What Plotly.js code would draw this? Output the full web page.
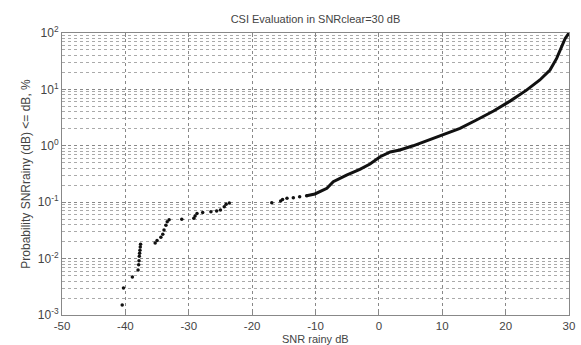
<!DOCTYPE html>
<html><head><meta charset="utf-8">
<script src="https://cdn.plot.ly/plotly-3.0.1.min.js"></script>
<style>body{margin:0;background:#fff}#c{width:581px;height:345px}</style>
</head><body><div id="c"></div>
<script>
// Sparse low-SNR samples (markers)
const sparseX = [-40.5, -40.3, -38.9, -38.0, -37.9, -37.85, -37.8, -37.75, -37.7, -37.65, -37.6,
  -35.3, -35.0, -34.4, -34.1, -33.9, -33.6, -33.4, -33.1, -31.1, -29.2, -29.0, -28.7, -27.8, -26.5, -25.6, -25.0, -24.4, -24.1, -23.6,
  -16.9, -15.5, -15.2, -14.5, -13.5, -12.5, -11.4];
const sparseY = [0.0015, 0.003, 0.0047, 0.0063, 0.0078, 0.0092, 0.011, 0.0125, 0.014, 0.016, 0.018,
  0.019, 0.021, 0.024, 0.027, 0.032, 0.039, 0.045, 0.049, 0.050, 0.052, 0.057, 0.063, 0.066, 0.068, 0.070, 0.073, 0.083, 0.092, 0.097,
  0.098, 0.105, 0.112, 0.117, 0.120, 0.125, 0.130];
// Dense part (continuous curve)
const curveX = [-11.4, -10.1, -8.2, -7.2, -5.1, -3.0, -1.4, 0.2, 1.8, 3.3, 5.4, 7.6, 9.9, 12.8, 15.4, 18.1, 20.7, 23.3, 25.4, 27.0, 28.05, 28.85, 29.4, 30.0];
const curveY = [0.130, 0.140, 0.176, 0.231, 0.303, 0.383, 0.475, 0.64, 0.776, 0.843, 1.0, 1.23, 1.52, 2.04, 2.87, 4.14, 6.2, 9.7, 14.7, 22, 35.5, 57, 80, 100];
const yTickVals = [0.001, 0.01, 0.1, 1, 10, 100];
const yTickText = ['10<sup>-3</sup>', '10<sup>-2</sup>', '10<sup>-1</sup>', '10<sup>0</sup>', '10<sup>1</sup>', '10<sup>2</sup>'];
const xTickVals = [-50, -40, -30, -20, -10, 0, 10, 20, 30];

const minorVals = [];
for (let e = -3; e < 2; e++) for (let d = 2; d < 10; d++) minorVals.push(d * Math.pow(10, e));

const traces = [
  {x: sparseX, y: sparseY, type: 'scatter', mode: 'markers', marker: {color: '#111', size: 3.5}, hoverinfo: 'none'},
  {x: curveX, y: curveY, type: 'scatter', mode: 'lines', line: {color: '#111', width: 3}, hoverinfo: 'none'}
];
const layout = {
  width: 581, height: 345,
  margin: {l: 62, r: 12, t: 33, b: 30},
  paper_bgcolor: '#fff', plot_bgcolor: '#fff',
  showlegend: false,
  font: {family: 'Liberation Sans, Arial, sans-serif', color: '#444', size: 12},
  title: {text: 'CSI Evaluation in SNRclear=30 dB', font: {size: 11, color: '#444'}, x: 0.543, xanchor: 'center', y: 0.945, yanchor: 'middle'},
  xaxis: {
    range: [-50, 30], tickvals: xTickVals, ticktext: xTickVals.map(String),
    showgrid: true, gridcolor: '#888', griddash: 'dot', gridwidth: 1,
    zeroline: false, showline: true, linecolor: '#888', linewidth: 1, mirror: 'ticks',
    ticks: 'inside', ticklen: 4, tickcolor: '#888',
    tickfont: {size: 11.5, color: '#444'}
  },
  yaxis: {
    type: 'log', range: [-3, 2], tickvals: yTickVals, ticktext: yTickText,
    showgrid: true, gridcolor: '#888', griddash: 'dot', gridwidth: 1,
    minor: {tickvals: minorVals, showgrid: true, gridcolor: '#aaa', griddash: 'dot', gridwidth: 1},
    zeroline: false, showline: true, linecolor: '#888', linewidth: 1, mirror: 'ticks',
    ticks: 'inside', ticklen: 4, tickcolor: '#888',
    tickfont: {size: 12, color: '#444'},
    title: {text: 'Probability SNRrainy (dB) <= dB, %', font: {size: 12, color: '#444'}, standoff: 4}
  },
  annotations: [
    {text: 'SNR rainy dB', xref: 'paper', yref: 'paper', x: 0.5, y: 0, yshift: -23.5, xanchor: 'center', yanchor: 'middle',
     showarrow: false, borderpad: 0, font: {size: 11, color: '#444'}}
  ]
};
Plotly.newPlot('c', traces, layout, {staticPlot: true, displayModeBar: false});
</script>
</body></html>
